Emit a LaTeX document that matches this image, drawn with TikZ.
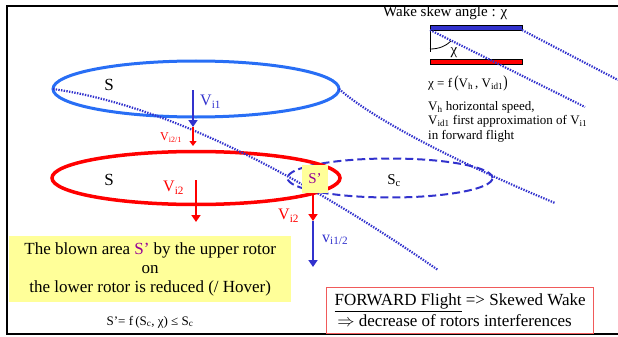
\documentclass[tikz,border=0pt]{standalone}
\usepackage{fontspec}
\usepackage{graphicx}
\setmainfont{Liberation Serif}
\usetikzlibrary{arrows.meta,shapes.geometric}
\definecolor{rotorblue}{RGB}{40,110,245}
\definecolor{wakeblue}{RGB}{50,50,205}
\definecolor{rred}{RGB}{255,0,0}
\definecolor{paleyellow}{RGB}{255,255,153}
\definecolor{spurple}{RGB}{150,0,150}
\definecolor{boxred}{RGB}{240,90,90}
\newcommand{\fsz}[2]{\fontsize{#1}{#2}\selectfont}
\begin{document}
\begin{tikzpicture}[x=1pt,y=-1pt,
  rotor/.style={ellipse, inner sep=0pt, outer sep=0pt, line width=3pt},
  wake/.style={wakeblue, line width=2.2pt, dash pattern=on 1.4pt off 1.3pt},
  vel/.style={line width=2pt, -{Triangle[width=9pt,length=7pt]}},
  smallvel/.style={line width=1.8pt, -{Triangle[width=7pt,length=5pt]}},
  lbl/.style={inner sep=0pt, anchor=west},
  bar/.style={draw=black, line width=0.6pt, minimum width=92pt, minimum height=5pt, inner sep=0pt, outer sep=0pt},
]
\useasboundingbox (0,0) rectangle (618,337);
% frame
\draw[line width=2pt] (618,6) -- (7,6) -- (7,334) -- (618,334);

% rotors
\node[ellipse, draw=wakeblue, line width=2pt, dash pattern=on 8pt off 4pt,
      minimum width=205pt, minimum height=39pt, inner sep=0pt] (sc) at (390,178) {};
\node[rotor, draw=rred, line width=3.5pt, minimum width=288pt, minimum height=53pt] (lower) at (196,178) {};
\node[rotor, draw=rotorblue, minimum width=286pt, minimum height=56pt] (upper) at (196,89) {};

% wake lines
\coordinate (w1e) at (438,270);
\coordinate (w2e) at (555,203);
\draw[wake] (upper.west) .. controls (130,100) and (250,140) .. (w1e);
\draw[wake] (upper.east) .. controls (380,125) and (480,172) .. (w2e);

% S' box
\node[fill=paleyellow, minimum width=26pt, minimum height=28pt, inner sep=0pt,
      text=spurple, font=\fsz{15}{15}] (sp) at (315,179) {S’};

% labels in rotors
\node[font=\fsz{17}{17}, inner sep=0pt] (s1) at (109,85) {S};
\node[font=\fsz{17}{17}, inner sep=0pt] (s2) at (109,180) {S};
\node[font=\fsz{15}{15}, inner sep=0pt] (scl) at (394,181) {S\textsubscript{c}};

% velocity arrows
\coordinate (a1) at (193,90);
\coordinate (a2) at (193,127);
\coordinate (a3) at (193,146);
\coordinate (b1) at (196,180);
\coordinate (b2) at (196,222);
\coordinate (c1) at (313,193);
\coordinate (c2) at (313,221);
\coordinate (c3) at (313,267);
\draw[vel, wakeblue] (a1) -- (a2);
\draw[smallvel, rred] (a2) -- (a3);
\draw[vel, rred] (b1) -- (b2);
\draw[vel, rred] (c1) -- (c2);
\draw[vel, wakeblue] (c2) -- (c3);

\node[lbl, text=wakeblue, font=\fsz{16}{16}] (lvi1) at (200,102) {V\textsubscript{i1}};
\node[lbl, text=rred, font=\fsz{12}{12}] (lvi21) at (160,138) {V\textsubscript{i2/1}};
\node[lbl, text=rred, font=\fsz{16}{16}] (lvi2a) at (163,188) {V\textsubscript{i2}};
\node[lbl, text=rred, font=\fsz{16}{16}] (lvi2b) at (278,216) {V\textsubscript{i2}};
\node[lbl, text=wakeblue, font=\fsz{16}{16}] (lvi12) at (322,240) {v\textsubscript{i1/2}};

% skew angle sketch
\node[bar, fill=wakeblue] (bluebar) at (476,27.5) {};
\node[bar, fill=rred] (redbar) at (476,61.5) {};
\coordinate (vend) at (430,52);
\coordinate (w3e) at (618,80);
\coordinate (w4e) at (585,107);
\coordinate (arcs) at (430,49);
\coordinate (arce) at (451,41);
\draw[line width=0.8pt] (bluebar.south west) -- (vend);
\draw[line width=0.8pt] (arcs) .. controls (439,49) and (446,46) .. (arce);
\draw[wake] (bluebar.south east) -- (w3e);
\draw[wake] (bluebar.south west) -- (w4e);
\node[font=\fsz{15}{15}, inner sep=0pt] (chi) at (454,53) {χ};
\node[lbl, font=\fsz{15}{15}] (title) at (383,13) {Wake skew angle : χ};
\node[lbl, font=\fsz{13}{13}] (eqchi) at (428,83)
  {χ = f\,\scalebox{1}[1.3]{(}V\textsubscript{h}\,, V\textsubscript{id1}\scalebox{1}[1.3]{)}};
\node[lbl, font=\fsz{13}{14.5}, align=left, anchor=north west] (defs) at (428,101)
  {V\textsubscript{h} horizontal speed,\\V\textsubscript{id1} first approximation of V\textsubscript{i1}\\in forward flight};

% bottom boxes
\node[fill=paleyellow, minimum width=282pt, minimum height=66pt, anchor=north west,
      align=center, font=\fsz{17}{19}, inner sep=0pt] (blown) at (9,236)
  {The blown area \textcolor{spurple}{S’} by the upper rotor\\on\\the lower rotor is reduced (/ Hover)};
\node[font=\fsz{13}{13}, inner sep=0pt] (form) at (150,322)
  {S\char"0027= f\,(S\textsubscript{c}, χ) ≤ S\textsubscript{c}};
\node[draw=boxred, line width=1.2pt, minimum width=267pt, minimum height=46pt, anchor=north west,
      align=left, font=\fsz{17}{21}, inner sep=0pt] (fwd) at (326,287)
  {\underline{FORWARD Flight} => Skewed Wake\\ \,$\Rightarrow$ decrease of rotors interferences};
\end{tikzpicture}
\end{document}
